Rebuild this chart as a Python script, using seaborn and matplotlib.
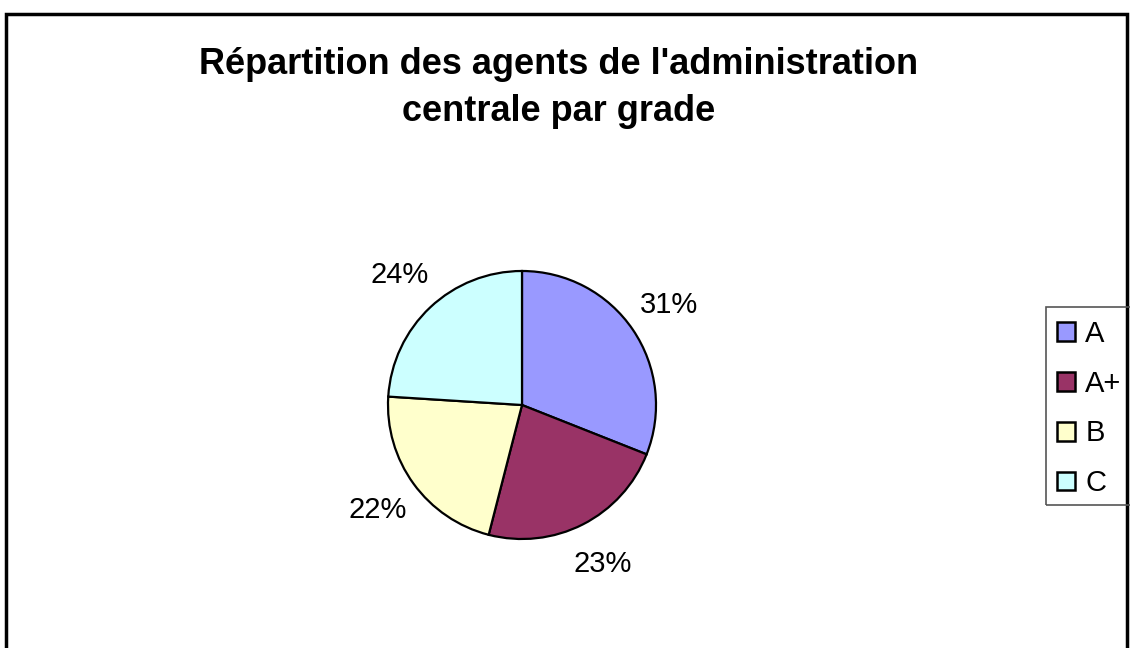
import matplotlib
matplotlib.use("Agg")
import matplotlib.pyplot as plt
from matplotlib.patches import Rectangle, Patch
import seaborn as sns

categories = ["A", "A+", "B", "C"]
shares = [31, 23, 22, 24]
colors = ["#9999FF", "#993366", "#FFFFCC", "#CCFFFF"]
title = "Répartition des agents de l'administration\ncentrale par grade"

sns.set_theme(style="white")
plt.rcParams['font.family'] = ['Liberation Sans', 'DejaVu Sans']
plt.rcParams['text.color'] = 'black'

W, H = 1130, 648
fig = plt.figure(figsize=(W / 100, H / 100), dpi=100)
fig.patch.set_facecolor("white")

cx, cy, r = 522, 405, 134
ax = fig.add_axes([(cx - r) / W, (H - cy - r) / H, 2 * r / W, 2 * r / H])
ax.pie(shares, colors=colors, startangle=90, counterclock=False,
       autopct='%1.0f%%', pctdistance=1.33,
       wedgeprops=dict(edgecolor="black", linewidth=1.6),
       textprops=dict(fontsize=21, color="black"))
ax.set_xlim(-1, 1)
ax.set_ylim(-1, 1)
ax.set_aspect("auto")

fig.text(559 / W, 1 - 88 / H, title, ha="center", va="center",
         fontsize=26, fontweight="bold", linespacing=1.45, color="black")

# outer chart border
fig.patches.append(Rectangle((6 / W, -0.1), (1127 - 6) / W, (H - 14) / H + 0.1,
                             transform=fig.transFigure, fill=False,
                             edgecolor="black", linewidth=2.5, clip_on=False))
# legend frame
fig.patches.append(Rectangle((1046 / W, 1 - 505 / H), 0.2, (505 - 307) / H,
                             transform=fig.transFigure, fill=False,
                             edgecolor="#555555", linewidth=1.2, clip_on=False))

handles = [Patch(facecolor=c, edgecolor="black", linewidth=1.8) for c in colors]
fig.legend(handles, categories, loc="center left",
           bbox_to_anchor=(1057 / W, 1 - 408.5 / H), frameon=False,
           fontsize=21, handlelength=0.62, handleheight=0.62,
           handletextpad=0.35, labelspacing=0.75, borderpad=0,
           borderaxespad=0)

fig.savefig("out.png", dpi=100)
